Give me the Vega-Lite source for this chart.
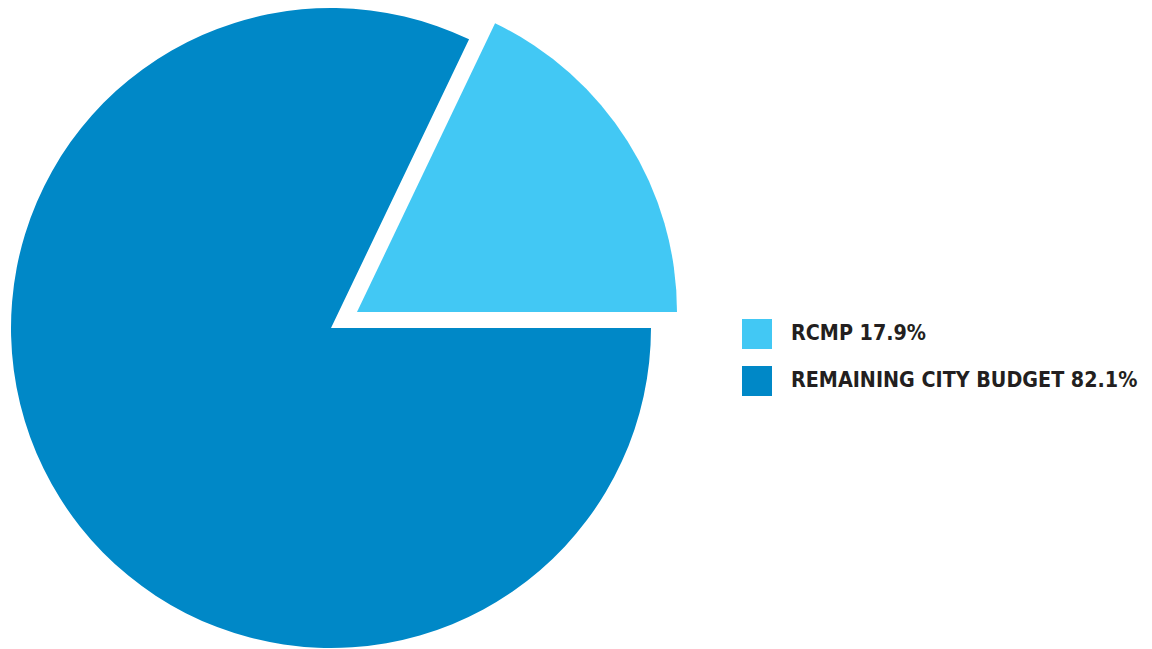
{
  "$schema": "https://vega.github.io/schema/vega-lite/v6.json",
  "width": 662,
  "height": 656,
  "padding": 0,
  "background": "white",
  "view": {"stroke": null},
  "data": {"values": [
    {"category": "RCMP 17.9%", "share": 17.9},
    {"category": "REMAINING CITY BUDGET 82.1%", "share": 82.1}
  ]},
  "transform": [
    {"stack": "share", "groupby": [], "sort": [{"field": "category", "order": "ascending"}], "as": ["s0", "s1"]}
  ],
  "encoding": {
    "theta": {"field": "s0", "type": "quantitative",
      "scale": {"domain": [0, 100], "range": [0.4461, 6.7293]}},
    "theta2": {"field": "s1"},
    "color": {"field": "category", "type": "nominal",
      "sort": ["RCMP 17.9%", "REMAINING CITY BUDGET 82.1%"],
      "scale": {"domain": ["RCMP 17.9%", "REMAINING CITY BUDGET 82.1%"], "range": ["#42C8F4", "#0088C7"]},
      "legend": {"title": null, "orient": "none", "legendX": 742, "legendY": 319,
        "symbolType": "square", "symbolSize": 900, "symbolStrokeWidth": 0, "symbolOpacity": 1,
        "labelFont": "DejaVu Sans Condensed", "labelFontWeight": "bold", "labelFontSize": 21.3,
        "labelColor": "#231F20", "labelOffset": 19, "rowPadding": 17, "padding": 0,
        "labelLimit": 500}
    }
  },
  "layer": [
    {
      "transform": [{"filter": "datum.category !== 'RCMP 17.9%'"}],
      "mark": {"type": "arc", "outerRadius": 320}
    },
    {
      "transform": [{"filter": "datum.category === 'RCMP 17.9%'"}],
      "mark": {"type": "arc", "outerRadius": 320, "xOffset": 26, "yOffset": -16}
    }
  ]
}
